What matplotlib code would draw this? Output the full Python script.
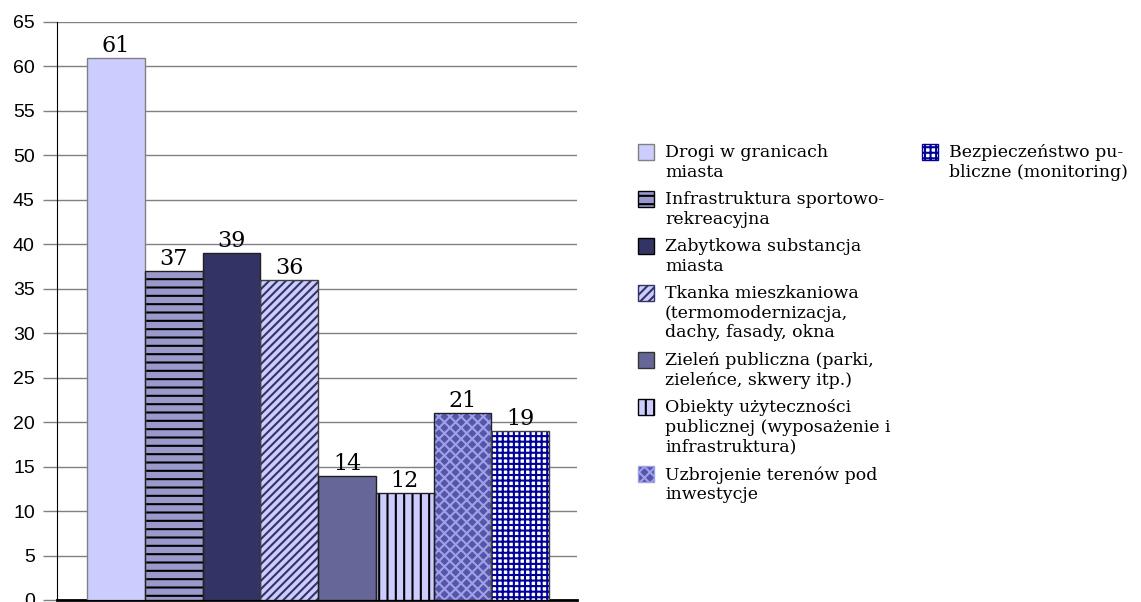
import matplotlib.pyplot as plt
from matplotlib.patches import Rectangle

# dane
labels = [
    "Drogi w granicach\nmiasta",
    "Infrastruktura sportowo-\nrekreacyjna",
    "Zabytkowa substancja\nmiasta",
    "Tkanka mieszkaniowa\n(termomodernizacja,\ndachy, fasady, okna",
    "Zieleń publiczna (parki,\nzieleńce, skwery itp.)",
    "Obiekty użyteczności\npublicznej (wyposażenie i\ninfrastruktura)",
    "Uzbrojenie terenów pod\ninwestycje",
    "Bezpieczeństwo pu-\nbliczne (monitoring)",
]
values = [61, 37, 39, 36, 14, 12, 21, 19]

# wygląd słupków
faces = ["#CCCCFF", "#9999CC", "#333366", "#CCCCFF", "#666699", "#CCCCFF", "#5555AA", "#FFFFFF"]
hatches = [None, "--", None, "////", None, "||", "xxx", "+++"]
hatch_cols = ["#808080", "#000000", "#000000", "#333366", "#333333", "#000000", "#A0A0E8", "#000099"]
edges = ["#808080", "#202020", "#202020", "#404040", "#202020", "#202020", "#202020", "#404040"]

plt.rcParams["hatch.linewidth"] = 1.5

W, H = 1141, 602
fig = plt.figure(figsize=(W / 100, H / 100), dpi=100)
ax = fig.add_axes([57 / W, 2 / H, 520 / W, 578 / H])

xs = list(range(len(values)))
# wypełnienie + kreskowanie
ax.bar(xs, values, width=1, align="edge", color=faces, hatch=hatches,
       edgecolor=hatch_cols, linewidth=0, zorder=3)
# obrys
ax.bar(xs, values, width=1, align="edge", fill=False, edgecolor=edges,
       linewidth=1, zorder=4)

for x, v in zip(xs, values):
    ax.text(x + 0.5, v + 0.1, str(v), ha="center", va="bottom",
            fontsize=16, family="DejaVu Serif", zorder=5)

ax.set_xlim(-0.52, 8.48)
ax.set_ylim(0, 65)
ax.set_yticks(range(0, 66, 5))
ax.set_xticks([])
ax.yaxis.grid(True, color="#808080", linewidth=1, zorder=0)
for s in ["top", "right"]:
    ax.spines[s].set_visible(False)
ax.spines["left"].set_color("black")
ax.spines["bottom"].set_linewidth(2)
ax.tick_params(axis="y", length=10, width=1, color="#808080", labelsize=14, pad=6)
for t in ax.get_yticklabels():
    t.set_family("Liberation Sans")


# legenda - ikonka wyrównana do pierwszej linii opisu (jak w Excelu)
def legend_item(i, x_px, y_px):
    fig.add_artist(Rectangle((x_px / W, 1 - (y_px + 8) / H), 16 / W, 16 / H,
                             transform=fig.transFigure, facecolor=faces[i], hatch=hatches[i],
                             edgecolor=hatch_cols[i], linewidth=1))
    fig.text((x_px + 27) / W, 1 - (y_px - 8) / H, labels[i], va="top", ha="left",
             family="DejaVu Serif", fontsize=12.5, linespacing=1.2)


y = 152
for i in range(7):
    legend_item(i, 638, y)
    y += 20 * (labels[i].count("\n") + 1) + 7
legend_item(7, 922, 152)

fig.savefig("out.png", dpi=100)
